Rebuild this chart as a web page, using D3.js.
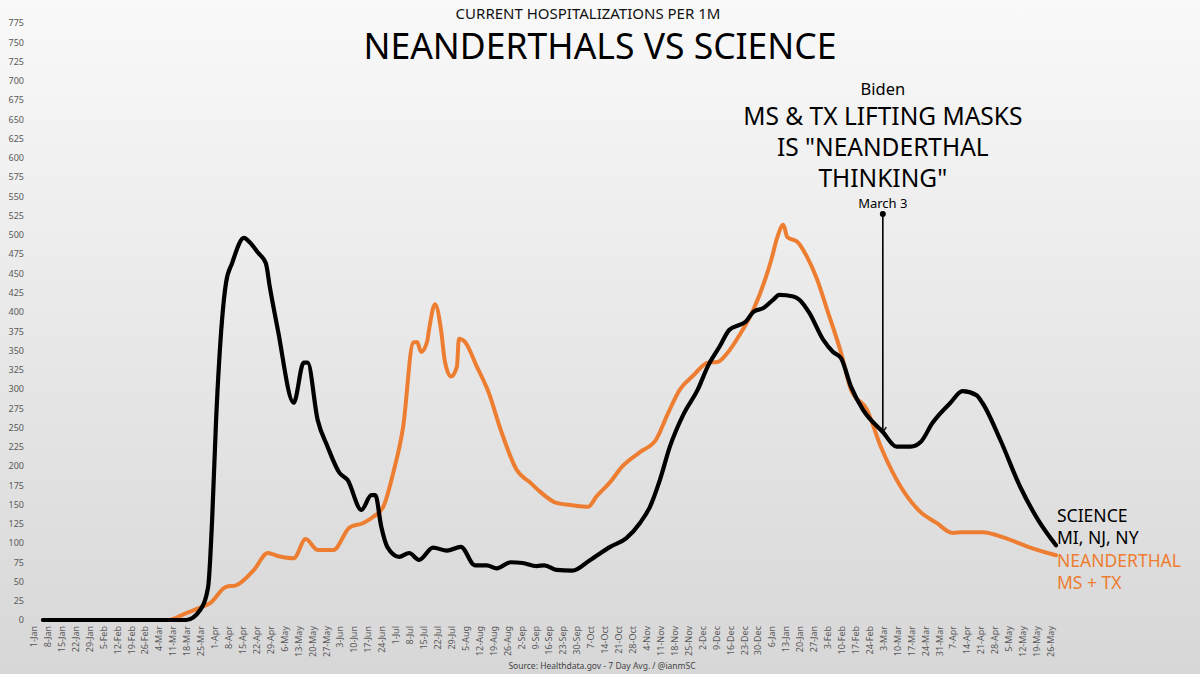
<!DOCTYPE html>
<html>
<head>
<meta charset="utf-8">
<script src="https://cdn.jsdelivr.net/npm/d3@7"></script>
<style>
  html, body { margin: 0; padding: 0; background: #ffffff; }
  svg { display: block; }
  text { font-family: "Noto Sans", "DejaVu Sans", sans-serif; }
</style>
</head>
<body>
<svg id="chart" width="1200" height="674"></svg>
<script>
// ---------------- DATA ----------------
const subtitle = "CURRENT HOSPITALIZATIONS PER 1M";
const title = "NEANDERTHALS VS SCIENCE";
const sourceText = "Source: Healthdata.gov - 7 Day Avg. / @ianmSC";

const tickLabels = [
  "1-Jan","8-Jan","15-Jan","22-Jan","29-Jan","5-Feb","12-Feb","19-Feb","26-Feb",
  "4-Mar","11-Mar","18-Mar","25-Mar","1-Apr","8-Apr","15-Apr","22-Apr","29-Apr",
  "6-May","13-May","20-May","27-May","3-Jun","10-Jun","17-Jun","24-Jun","1-Jul",
  "8-Jul","15-Jul","22-Jul","29-Jul","5-Aug","12-Aug","19-Aug","26-Aug","2-Sep",
  "9-Sep","16-Sep","23-Sep","30-Sep","7-Oct","14-Oct","21-Oct","28-Oct","4-Nov",
  "11-Nov","18-Nov","25-Nov","2-Dec","9-Dec","16-Dec","23-Dec","30-Dec","6-Jan",
  "13-Jan","20-Jan","27-Jan","3-Feb","10-Feb","17-Feb","24-Feb","3-Mar","10-Mar",
  "17-Mar","24-Mar","31-Mar","7-Apr","14-Apr","21-Apr","28-Apr","5-May","12-May",
  "19-May","26-May"
];
const firstTickDate = "2020-01-01";
const lastTickDate = "2021-05-26";
const yTicks = [0,25,50,75,100,125,150,175,200,225,250,275,300,325,350,375,400,
  425,450,475,500,525,550,575,600,625,650,675,700,725,750,775];

// SCIENCE: MI, NJ, NY (black)
const science = [
  ["2020-01-06",0],["2020-03-18",0],["2020-03-25",13],["2020-03-29",43],["2020-03-31",130],
  ["2020-04-02",260],["2020-04-05",390],["2020-04-07",438],["2020-04-10",463],["2020-04-16",496],
  ["2020-04-19",490],["2020-04-23",477],["2020-04-27",463],["2020-04-29",432],["2020-05-03",377],
  ["2020-05-11",282],["2020-05-16",334],["2020-05-18",334],["2020-05-23",260],["2020-05-28",225],
  ["2020-06-03",191],["2020-06-07",182],["2020-06-14",143],["2020-06-19",162],["2020-06-21",162],
  ["2020-06-24",121],["2020-06-27",95],["2020-07-03",82],["2020-07-08",87],["2020-07-13",78],
  ["2020-07-20",94],["2020-07-27",90],["2020-08-03",95],["2020-08-10",71],["2020-08-16",71],
  ["2020-08-21",67],["2020-08-28",75],["2020-09-03",74],["2020-09-10",70],["2020-09-14",71],
  ["2020-09-20",65],["2020-09-28",64],["2020-10-07",78],["2020-10-17",95],["2020-10-25",106],
  ["2020-11-01",126],["2020-11-06",147],["2020-11-11",182],["2020-11-16",225],["2020-11-23",268],
  ["2020-11-30",299],["2020-12-05",329],["2020-12-11",355],["2020-12-16",377],["2020-12-21",383],
  ["2020-12-24",387],["2020-12-28",400],["2021-01-02",405],["2021-01-07",416],["2021-01-10",422],
  ["2021-01-17",420],["2021-01-20",416],["2021-01-25",399],["2021-02-01",364],["2021-02-06",348],
  ["2021-02-10",340],["2021-02-15",303],["2021-02-21",273],["2021-03-03",244],["2021-03-10",225],
  ["2021-03-17",225],["2021-03-22",231],["2021-03-28",256],["2021-04-06",282],["2021-04-12",297],
  ["2021-04-19",292],["2021-04-22",282],["2021-05-01",234],["2021-05-11",173],["2021-05-20",130],
  ["2021-05-29",97]
];

// NEANDERTHAL: MS + TX (orange)
const neanderthal = [
  ["2020-01-06",0],["2020-03-09",0],["2020-03-18",9],["2020-03-25",16],["2020-03-30",22],
  ["2020-04-07",43],["2020-04-12",45],["2020-04-21",65],["2020-04-28",87],["2020-05-03",83],
  ["2020-05-11",80],["2020-05-17",105],["2020-05-23",91],["2020-05-31",91],["2020-06-08",120],
  ["2020-06-15",126],["2020-06-20",134],["2020-06-25",147],["2020-06-30",191],["2020-07-05",251],
  ["2020-07-10",360],["2020-07-12",361],["2020-07-14",348],["2020-07-17",361],["2020-07-18",377],
  ["2020-07-21",410],["2020-07-24",377],["2020-07-26",335],["2020-07-29",316],["2020-08-01",329],
  ["2020-08-02",365],["2020-08-05",361],["2020-08-11",329],["2020-08-17",295],["2020-08-23",247],
  ["2020-08-31",195],["2020-09-07",178],["2020-09-12",166],["2020-09-20",152],["2020-09-28",149],
  ["2020-10-06",147],["2020-10-10",160],["2020-10-17",179],["2020-10-23",199],["2020-11-01",218],
  ["2020-11-09",234],["2020-11-15",268],["2020-11-21",299],["2020-11-28",318],["2020-12-05",334],
  ["2020-12-10",335],["2020-12-15",347],["2020-12-21",370],["2020-12-28",403],["2021-01-04",451],
  ["2021-01-06",468],["2021-01-09",497],["2021-01-12",513],["2021-01-14",497],["2021-01-19",491],
  ["2021-01-24",471],["2021-01-29",442],["2021-02-03",403],["2021-02-10",347],["2021-02-15",299],
  ["2021-02-23",273],["2021-03-02",225],["2021-03-12",173],["2021-03-22",140],["2021-03-30",126],
  ["2021-04-07",113],["2021-04-12",114],["2021-04-22",114],["2021-05-04",106],["2021-05-15",95],
  ["2021-05-29",84]
];

const annotationDate = "2021-03-03";
const annotationLines = ["MS & TX LIFTING MASKS", "IS \"NEANDERTHAL", "THINKING\""];

// ---------------- DRAW ----------------
const parse = d3.utcParse("%Y-%m-%d");
const svg = d3.select("#chart");
const W = 1200, H = 674;
const BLACK = "#000000", ORANGE = "#ED7D31", AXIS_TEXT = "#595959";

const defs = svg.append("defs");
const grad = defs.append("linearGradient").attr("id", "bg")
  .attr("x1", 0).attr("y1", 0).attr("x2", 0).attr("y2", 1);
grad.append("stop").attr("offset", "0%").attr("stop-color", "#f9f9f9");
grad.append("stop").attr("offset", "100%").attr("stop-color", "#d7d7d7");
svg.append("rect").attr("width", W).attr("height", H).attr("fill", "url(#bg)");

const x = d3.scaleUtc()
  .domain([parse(firstTickDate), parse(lastTickDate)])
  .range([33, 1050]);
const y = d3.scaleLinear().domain([0, 775]).range([620, 23]);

// Y axis labels
const yAxis = d3.axisLeft(y).tickValues(yTicks).tickSize(0).tickPadding(0);
const yg = svg.append("g").attr("transform", "translate(24,0)").call(yAxis);
yg.select(".domain").remove();
yg.selectAll("text").attr("fill", AXIS_TEXT).style("font-size", "9px")
  .style("font-family", "'Noto Sans', sans-serif");

// X axis labels (weekly)
const tickDates = tickLabels.map((_, i) => d3.utcDay.offset(parse(firstTickDate), 7 * i));
const xAxis = d3.axisBottom(x).tickValues(tickDates)
  .tickFormat((d, i) => tickLabels[i]).tickSize(0).tickPadding(0);
const xg = svg.append("g").attr("transform", "translate(0,626)").call(xAxis);
xg.select(".domain").remove();
xg.selectAll("text")
  .attr("fill", AXIS_TEXT).style("font-size", "9px")
  .style("font-family", "'Noto Sans', sans-serif")
  .attr("text-anchor", "end")
  .attr("dy", null)
  .attr("y", 0).attr("x", 0)
  .attr("dominant-baseline", "central")
  .attr("transform", "rotate(-90)");

// Lines
const line = d3.line()
  .x(d => x(parse(d[0])))
  .y(d => y(d[1]))
  .curve(d3.curveMonotoneX);

svg.append("path").datum(neanderthal)
  .attr("d", line).attr("fill", "none")
  .attr("stroke", ORANGE).attr("stroke-width", 4)
  .attr("stroke-linejoin", "round").attr("stroke-linecap", "round");

svg.append("path").datum(science)
  .attr("d", line).attr("fill", "none")
  .attr("stroke", BLACK).attr("stroke-width", 4.2)
  .attr("stroke-linejoin", "round").attr("stroke-linecap", "round");

// Titles
svg.append("text").attr("x", 588).attr("y", 19).attr("text-anchor", "middle")
  .style("font-size", "15px").attr("fill", "#111").text(subtitle);
svg.append("text").attr("x", 600).attr("y", 59).attr("text-anchor", "middle")
  .style("font-size", "35.5px").attr("fill", "#000").text(title);

// Annotation
const ax = x(parse(annotationDate));
const sciAt = science.find(d => d[0] === annotationDate)[1];
const ay = y(sciAt);
svg.append("text").attr("x", ax).attr("y", 95).attr("text-anchor", "middle")
  .style("font-size", "16.5px").attr("fill", "#000").text("Biden");
annotationLines.forEach((t, i) => {
  svg.append("text").attr("x", ax).attr("y", 125 + i * 31).attr("text-anchor", "middle")
    .style("font-size", "24.5px").attr("fill", "#000").text(t);
});
svg.append("text").attr("x", ax).attr("y", 208).attr("text-anchor", "middle")
  .style("font-size", "13px").attr("fill", "#000").text("March 3");
svg.append("line").attr("x1", ax).attr("x2", ax).attr("y1", 214).attr("y2", ay)
  .attr("stroke", "#000").attr("stroke-width", 1.6);
svg.append("circle").attr("cx", ax).attr("cy", 214).attr("r", 3).attr("fill", "#000");
svg.append("path")
  .attr("d", `M${ax - 3.5},${ay - 5} L${ax},${ay} L${ax + 3.5},${ay - 5}`)
  .attr("fill", "none").attr("stroke", "#000").attr("stroke-width", 1.4);

// Series labels
const lx = 1057;
svg.append("text").attr("x", lx).attr("y", 522).style("font-size", "17.5px")
  .attr("fill", BLACK).text("SCIENCE");
svg.append("text").attr("x", lx).attr("y", 544).style("font-size", "17.5px")
  .attr("fill", BLACK).text("MI, NJ, NY");
svg.append("text").attr("x", lx).attr("y", 567).style("font-size", "17.5px")
  .attr("fill", ORANGE).text("NEANDERTHAL");
svg.append("text").attr("x", lx).attr("y", 589).style("font-size", "17.5px")
  .attr("fill", ORANGE).text("MS + TX");

// Source
svg.append("text").attr("x", 602).attr("y", 669).attr("text-anchor", "middle")
  .style("font-size", "8.5px").attr("fill", "#444").text(sourceText);
</script>
</body>
</html>
